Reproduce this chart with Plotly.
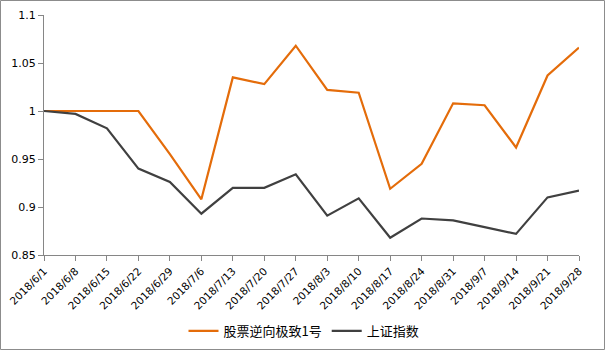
import plotly.graph_objects as go

dates = ["2018/6/1", "2018/6/8", "2018/6/15", "2018/6/22", "2018/6/29", "2018/7/6",
         "2018/7/13", "2018/7/20", "2018/7/27", "2018/8/3", "2018/8/10", "2018/8/17",
         "2018/8/24", "2018/8/31", "2018/9/7", "2018/9/14", "2018/9/21", "2018/9/28"]
fund = [1.0, 1.0, 1.0, 1.0, 0.955, 0.908, 1.035, 1.028, 1.068, 1.022, 1.019, 0.919,
        0.945, 1.008, 1.006, 0.962, 1.037, 1.066]
index_sh = [1.0, 0.997, 0.982, 0.940, 0.926, 0.893, 0.920, 0.920, 0.934, 0.891, 0.909, 0.868,
            0.888, 0.886, 0.879, 0.872, 0.910, 0.917]
name_fund = "股票逆向极致1号"
name_index = "上证指数"
y_ticks = [0.85, 0.9, 0.95, 1.0, 1.05, 1.1]
y_labels = ["0.85", "0.9", "0.95", "1", "1.05", "1.1"]

W, H = 606, 351
L, R, T, B = 44, 27, 15, 96
pw, ph = W - L - R, H - T - B

fig = go.Figure()
fig.add_trace(go.Scatter(x=dates, y=fund, mode="lines", name=name_fund,
                         line=dict(color="#E46C0A", width=2.2)))
fig.add_trace(go.Scatter(x=dates, y=index_sh, mode="lines", name=name_index,
                         line=dict(color="#404040", width=2.2)))

fig.update_layout(
    width=W, height=H,
    margin=dict(l=L, r=R, t=T, b=B, pad=0, autoexpand=False),
    paper_bgcolor="white", plot_bgcolor="white",
    font=dict(family="DejaVu Sans", size=11, color="black"),
    showlegend=True,
    legend=dict(orientation="h", x=(304 - L) / pw, xanchor="center",
                y=(T + ph - 331) / ph, yanchor="middle",
                font=dict(family="Noto Sans CJK SC", size=13, color="black"),
                itemwidth=30, tracegroupgap=0, bgcolor="rgba(0,0,0,0)"),
    xaxis=dict(type="category", range=[0, len(dates) - 1], showgrid=False,
               showline=True, linecolor="#868686", linewidth=1,
               ticks="outside", ticklen=5, tickcolor="#868686",
               tickangle=-45, tickfont=dict(size=10.5, family="DejaVu Sans"),
               zeroline=False, automargin=False),
    yaxis=dict(range=[0.85, 1.1], showgrid=False, showline=True,
               linecolor="#868686", linewidth=1, ticks="outside", ticklen=5,
               tickcolor="#868686", tickvals=y_ticks, ticktext=y_labels,
               tickfont=dict(size=11, family="DejaVu Sans"), zeroline=False,
               automargin=False),
    shapes=[dict(type="rect", xref="paper", yref="paper",
                 x0=(0.5 - L) / pw, x1=(W - 1.5 - L) / pw,
                 y0=(T + ph - (H - 1.5)) / ph, y1=(T + ph - 0.5) / ph,
                 line=dict(color="#8c8c8c", width=1), layer="below")],
)

fig.write_html("out.html")
